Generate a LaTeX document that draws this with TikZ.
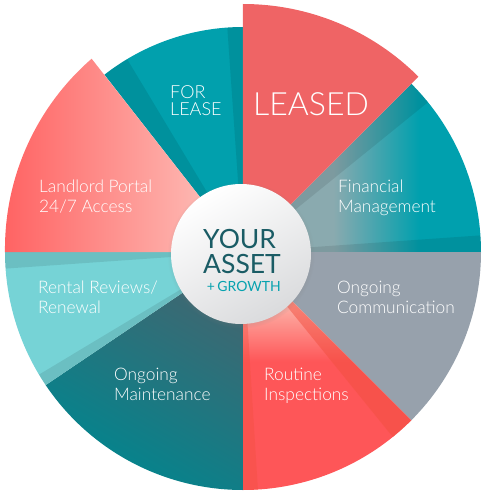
\documentclass[tikz,border=0pt]{standalone}
\usepackage{fontspec}
\setmainfont{Lato Light}
\newfontfamily\corefont{Lato}
\usetikzlibrary{shadows,positioning}

\definecolor{forleaseteal}{HTML}{01A0AD}
\definecolor{leasedred}{HTML}{EF6465}
\definecolor{fingray}{HTML}{8AAAAF}
\definecolor{finteal}{HTML}{00A0AE}
\definecolor{commgray}{HTML}{97A1AC}
\definecolor{routinered}{HTML}{FE5658}
\definecolor{routinepink}{HTML}{FDB2A8}
\definecolor{routineedge}{HTML}{F25040}
\definecolor{maintdark}{HTML}{43656F}
\definecolor{maintteal}{HTML}{00868F}
\definecolor{rentalcyan}{HTML}{76D3D6}
\definecolor{landleft}{HTML}{FF6363}
\definecolor{landright}{HTML}{FDC9C2}
\definecolor{assetteal}{HTML}{1A5C65}
\definecolor{growthteal}{HTML}{07A2AF}
\definecolor{disclight}{HTML}{FFFFFF}
\definecolor{discgray}{HTML}{DADBDD}

\pgfdeclarehorizontalshading{finshade}{100bp}{color(0bp)=(fingray); color(44bp)=(fingray); color(62bp)=(finteal); color(100bp)=(finteal)}
\pgfdeclareverticalshading{routineshade}{100bp}{color(0bp)=(routinered); color(52bp)=(routinered); color(64bp)=(routinepink); color(100bp)=(routinepink)}

\begin{document}
\begin{tikzpicture}[x=1pt,y=1pt,
  slicetext/.style={text=white, font=\fontsize{17.3}{19.5}\selectfont, align=left, inner sep=0pt, anchor=base west},
  edgeshade/.style={fill=black, fill opacity=0.09},
  bigword/.style={text=assetteal, font=\corefont\fontsize{26.5}{26.5}\selectfont, inner sep=0pt},
]
\useasboundingbox (-243,-249) rectangle (242,252);

% for lease
\fill[forleaseteal] (0,0) -- (90:225pt) arc[start angle=90, end angle=128, radius=225pt] -- cycle;
\fill[edgeshade] (0,0) -- (121:225pt) arc[start angle=121, end angle=128, radius=225pt] -- cycle;
\fill[edgeshade] (0,0) -- (90:225pt) arc[start angle=90, end angle=94, radius=225pt] -- cycle;

% financial management
\shade[shading=finshade] (0,0) -- (0:238pt) arc[start angle=0, end angle=45, radius=238pt] -- cycle;
\fill[edgeshade] (0,0) -- (39:238pt) arc[start angle=39, end angle=45, radius=238pt] -- cycle;
\fill[edgeshade] (0,0) -- (0:238pt) arc[start angle=0, end angle=4, radius=238pt] -- cycle;

% ongoing communication
\fill[commgray] (0,0) -- (0:238pt) arc[start angle=0, end angle=-45, radius=238pt] -- cycle;

% routine inspections
\shade[shading=routineshade] (0,0) -- (-45:238pt) arc[start angle=-45, end angle=-90, radius=238pt] -- cycle;
\fill[routineedge, fill opacity=0.5] (0,0) -- (-45:238pt) arc[start angle=-45, end angle=-51, radius=238pt] -- cycle;
\fill[routineedge, fill opacity=0.4] (0,0) -- (-90:238pt) arc[start angle=-90, end angle=-86.4, radius=238pt] -- cycle;

% ongoing maintenance
\shade[top color=maintdark, bottom color=maintteal, shading angle=-30] (0,0) -- (-90:238pt) arc[start angle=-90, end angle=-146, radius=238pt] -- cycle;

% rental reviews
\fill[rentalcyan] (0,0) -- (180:238pt) arc[start angle=180, end angle=214, radius=238pt] -- cycle;
\fill[edgeshade] (0,0) -- (180:238pt) arc[start angle=180, end angle=184, radius=238pt] -- cycle;
\fill[edgeshade] (0,0) -- (211:238pt) arc[start angle=211, end angle=214, radius=238pt] -- cycle;

% landlord portal
\shade[left color=landleft, right color=landright] (0,0) -- (-238,0) arc[start angle=180.7, end angle=131, radius=252pt] -- cycle;

% leased
\fill[leasedred] (0,0) -- (45:248pt) arc[start angle=45, end angle=90, radius=248pt] -- cycle;

% centre
\node[circle, minimum size=140pt, inner sep=0pt, top color=disclight, bottom color=discgray, shading angle=30,
  circular drop shadow={shadow xshift=0pt, shadow yshift=-1pt, shadow scale=1.05, opacity=0.35}] (core) at (-2,-2) {};
\node[bigword, anchor=base west] (your) at (-40,4) {YOUR};
\node[bigword, anchor=base west] (asset) at (-40,-21) {ASSET};
\node[text=growthteal, font=\corefont\fontsize{14}{14}\selectfont, inner sep=0pt, anchor=base east] (growth) at (asset.base east |- 0,-39) {+\,GROWTH};

% labels
\node[white, font=\fontsize{18}{17}\selectfont, align=left, inner sep=0pt, anchor=base west] (forlease) at (-73,136) {FOR\\LEASE};
\node[white, font=\fontsize{32}{32}\selectfont, inner sep=0pt, anchor=base west] (leased) at (10,136) {LEASED};
\node[slicetext] (financial) at (95,40) {Financial\\Management};
\node[slicetext] (communication) at (94,-61) {Ongoing\\Communication};
\node[slicetext] (inspections) at (21,-148) {Routine\\Inspections};
\node[slicetext] (maintenance) at (-129,-148) {Ongoing\\Maintenance};
\node[slicetext] (rental) at (-205,-61) {Rental Reviews/\\Renewal};
\node[slicetext] (portal) at (-204,40) {Landlord Portal\\24/7 Access};
\end{tikzpicture}
\end{document}
